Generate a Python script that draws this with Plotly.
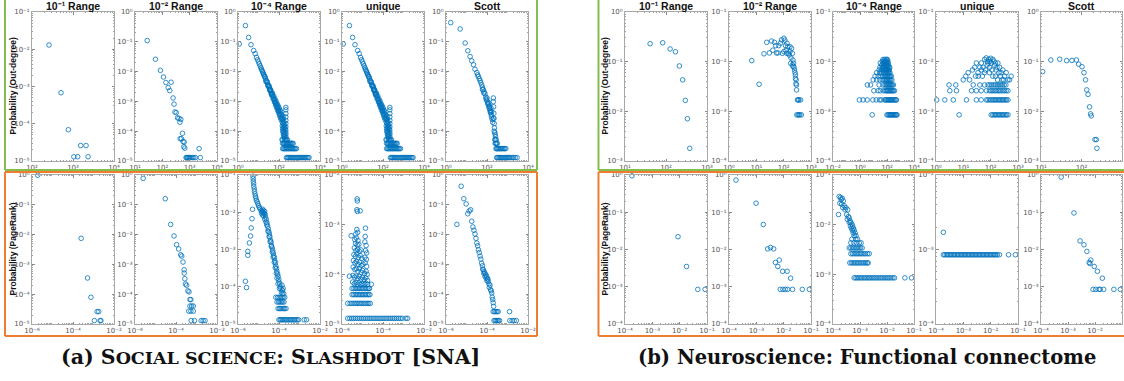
import plotly.graph_objects as go

# ---------------------------------------------------------------- data
col_titles = ["10\u207b\u00b9 Range", "10\u207b\u00b2 Range", "10\u207b\u2074 Range", "unique", "Scott"]
row_labels = ["Probability (Out-degree)", "Probability (PageRank)"]
caption_a = ("(a) S<span style=\"font-size:17.5px\">OCIAL SCIENCE</span>: "
             "S<span style=\"font-size:17.5px\">LASHDOT</span> [SNA]")
caption_b = "(b) Neuroscience: Functional connectome"

# ---- Slashdot, out-degree
slash_out_r1 = [(260, 1.3e-2), (510, 6.8e-4), (770, 6.9e-5), (1050, 1.3e-5), (1300, 1.3e-5),
                (1540, 2.6e-5), (2080, 2.6e-5), (2330, 1.3e-5)]
slash_out_r2 = [(28, 0.11), (56, 0.026), (85, 0.011), (110, 6.6e-3), (135, 4.3e-3), (164, 2.9e-3),
                (210, 4.4e-3), (187, 2.3e-3), (247, 1.3e-3), (268, 8.1e-4), (290, 4.4e-4), (323, 4.2e-4),
                (360, 2.8e-4), (405, 2.7e-4), (440, 2.0e-4), (475, 2.5e-4), (450, 5.6e-5), (500, 5.6e-5),
                (545, 8.5e-5), (575, 4.5e-5), (610, 3.0e-5), (630, 4.3e-5), (665, 2.7e-5), (740, 1.3e-5),
                (780, 1.3e-5), (830, 1.3e-5), (880, 1.3e-5), (950, 1.3e-5), (1000, 1.3e-5), (1100, 1.3e-5),
                (1270, 1.3e-5), (1420, 1.3e-5), (1620, 1.3e-5), (2220, 2.6e-5), (2450, 1.3e-5)]
slash_out_fine = [
    (1.15, 0.085), (2.3, 0.35), (3.3, 0.14), (4.3, 0.08), (5.8, 0.051), (6.9, 0.04),
    (8, 0.030), (9, 0.025), (10, 0.021), (11, 0.018), (12, 0.0155), (13, 0.0135), (14, 0.012),
    (15, 0.0107), (16, 0.0097), (17, 0.0088), (18, 0.008), (19, 0.0073), (20, 0.0067), (22, 0.0057),
    (24, 0.005), (26, 0.0044), (28, 0.0038), (30, 0.0035), (32, 0.0031), (34, 0.0028), (36, 0.0025),
    (38, 0.0023), (40, 0.0021), (43, 0.0019), (46, 0.0017), (50, 0.0015), (54, 0.0013), (58, 0.00115),
    (62, 0.00104), (66, 0.00093), (70, 0.00085), (75, 0.00076), (80, 0.00068), (85, 0.00062),
    (90, 0.00056), (95, 0.00051), (100, 0.00047), (110, 0.0004), (120, 0.00035), (130, 0.0003),
    (140, 0.00027), (150, 0.00024),
    (21, 0.0066), (23, 0.0047), (27, 0.0045), (29, 0.0033), (33, 0.0033), (35, 0.0024), (39, 0.0025),
    (42, 0.0018), (44, 0.0016), (48, 0.0019), (52, 0.0012), (56, 0.0015), (60, 0.00095), (64, 0.0012),
    (68, 0.00075), (72, 0.001), (78, 0.0006), (82, 0.00082), (88, 0.00048), (92, 0.0007), (98, 0.0004),
    (102, 0.0006), (108, 0.00033), (112, 0.0005), (118, 0.00028), (122, 0.00045), (128, 0.00024),
    (135, 0.00036), (145, 0.0002), (155, 0.00032), (160, 0.00018), (165, 0.00015), (170, 0.00013),
    (175, 0.00011), (180, 9.1e-5), (185, 7.8e-5), (190, 6.5e-5), (160, 0.00026), (170, 0.00021),
    (180, 0.00017), (190, 0.00014), (200, 0.00012), (145, 0.00015), (150, 0.00012), (155, 0.0001),
    (160, 9.1e-5), (165, 7.8e-5), (170, 6.5e-5),
    (215, 6.3e-4), (215, 5.2e-4), (215, 3.9e-4), (215, 3.0e-4), (215, 2.3e-4), (215, 1.8e-4),
    (215, 1.4e-4), (215, 1.1e-4), (215, 9.1e-5), (215, 7.8e-5), (215, 6.5e-5), (215, 5.2e-5),
    (140, 5.2e-5), (155, 5.2e-5), (185, 5.2e-5), (200, 5.2e-5), (235, 5.2e-5), (255, 5.2e-5),
    (150, 3.9e-5), (165, 3.9e-5), (180, 3.9e-5), (195, 3.9e-5), (215, 3.9e-5), (235, 3.9e-5),
    (255, 3.9e-5), (275, 3.9e-5), (300, 3.9e-5), (330, 3.9e-5), (360, 3.9e-5), (400, 3.9e-5),
    (440, 3.9e-5), (490, 3.9e-5),
    (150, 2.6e-5), (170, 2.6e-5), (190, 2.6e-5), (210, 2.6e-5), (230, 2.6e-5), (260, 2.6e-5),
    (290, 2.6e-5), (320, 2.6e-5), (360, 2.6e-5), (400, 2.6e-5), (450, 2.6e-5), (500, 2.6e-5),
    (560, 2.6e-5), (630, 2.6e-5), (710, 2.6e-5),
    (230, 1.3e-5), (260, 1.3e-5), (290, 1.3e-5), (330, 1.3e-5), (370, 1.3e-5), (420, 1.3e-5),
    (470, 1.3e-5), (530, 1.3e-5), (600, 1.3e-5), (680, 1.3e-5), (770, 1.3e-5), (870, 1.3e-5),
    (980, 1.3e-5), (1100, 1.3e-5), (1250, 1.3e-5), (1400, 1.3e-5), (1600, 1.3e-5), (1800, 1.3e-5),
    (2000, 1.3e-5), (2300, 1.3e-5), (2600, 1.3e-5), (2900, 1.3e-5)]
slash_out_unique = slash_out_fine
slash_out_scott = [
    (1.7, 0.44), (4.9, 0.27), (8.6, 0.091), (11.6, 0.05), (15, 0.032), (18, 0.023), (22, 0.017),
    (26, 0.012), (32, 0.0093), (35, 0.0078), (38, 0.0068), (42, 0.0058), (46, 0.005), (50, 0.0043),
    (55, 0.0036), (60, 0.003), (66, 0.0025), (72, 0.0021), (80, 0.0018), (88, 0.0014), (96, 0.0011),
    (105, 0.00095), (115, 0.00076), (125, 0.00065), (140, 0.00051), (150, 0.00042), (160, 0.00036),
    (60, 0.0025), (70, 0.0019), (90, 0.0012), (100, 0.0013), (110, 0.00085), (120, 0.0009),
    (130, 0.00058), (135, 0.0007), (145, 0.00045), (155, 0.0006), (165, 0.0003), (170, 0.00045),
    (180, 0.00025), (190, 0.0002),
    (204, 0.0013), (204, 0.00098), (210, 0.00066), (215, 0.0004), (204, 0.00027), (220, 0.00027),
    (225, 0.00018), (230, 0.00013), (225, 0.0001), (240, 9e-5), (250, 7.8e-5), (260, 6.5e-5),
    (240, 5.2e-5), (260, 5.2e-5), (280, 5.2e-5), (250, 3.9e-5), (270, 3.9e-5), (290, 3.9e-5),
    (320, 3.9e-5),
    (275, 2.6e-5), (300, 2.6e-5), (330, 2.6e-5), (360, 2.6e-5), (400, 2.6e-5), (450, 2.6e-5),
    (500, 2.6e-5), (570, 2.6e-5), (650, 2.6e-5), (730, 2.6e-5), (830, 2.6e-5),
    (295, 1.3e-5), (330, 1.3e-5), (370, 1.3e-5), (420, 1.3e-5), (470, 1.3e-5), (530, 1.3e-5),
    (600, 1.3e-5), (680, 1.3e-5), (770, 1.3e-5), (870, 1.3e-5), (980, 1.3e-5), (1100, 1.3e-5),
    (1250, 1.3e-5), (1450, 1.3e-5), (1700, 1.3e-5), (2000, 1.3e-5), (2400, 1.3e-5), (2950, 1.3e-5)]

# ---- Slashdot, PageRank
slash_pr_r1 = [(1.9e-6, 0.98), (2.5e-4, 7.5e-3), (5.1e-4, 3.5e-4), (7.5e-4, 7.9e-5), (1.5e-3, 2.6e-5),
               (1.8e-3, 2.6e-5), (1.1e-3, 1.3e-5), (2.1e-3, 1.3e-5), (2.3e-3, 1.3e-5)]
slash_pr_r2 = [(2.5e-6, 0.77), (3e-5, 0.16), (5.5e-5, 0.022), (8e-5, 9e-3), (1.07e-4, 4.6e-3),
               (1.35e-4, 3.3e-3), (1.7e-4, 2.1e-3), (1.9e-4, 1.9e-3), (2.2e-4, 1.2e-3), (2.5e-4, 6.6e-4),
               (2.5e-4, 5.1e-4), (2.7e-4, 3.3e-4), (2.9e-4, 2.2e-4), (3.3e-4, 2.0e-4), (3.8e-4, 1.3e-4),
               (4.3e-4, 1.2e-4), (4.8e-4, 6.6e-5), (5.3e-4, 6.6e-5), (4.8e-4, 4e-5), (5.8e-4, 4e-5),
               (7e-4, 4e-5), (4.2e-4, 2.7e-5), (5.3e-4, 2.7e-5), (7e-4, 2.7e-5), (5.5e-4, 1.3e-5),
               (8e-4, 1.3e-5), (1.7e-3, 1.3e-5), (2.1e-3, 1.3e-5), (2.6e-3, 1.3e-5)]
slash_pr_fine = [
    (2.3e-6, 1.4e-4), (2.6e-6, 9.5e-5), (3.0e-6, 7.0e-4), (3.0e-6, 8.9e-4), (3.6e-6, 1.5e-3),
    (4.1e-6, 2.3e-3), (4.4e-6, 3.8e-3), (4.8e-6, 6.7e-3), (5.1e-6, 1.2e-2),
    (5.4e-6, 0.093), (5.5e-6, 0.08), (5.6e-6, 0.068), (5.8e-6, 0.058), (5.9e-6, 0.049), (6.2e-6, 0.042),
    (6.4e-6, 0.036), (6.8e-6, 0.031), (7.1e-6, 0.027), (7.5e-6, 0.024), (7.9e-6, 0.021), (8.6e-6, 0.019),
    (9.3e-6, 0.017), (1.0e-5, 0.015), (1.1e-5, 0.0135), (1.2e-5, 0.0123), (1.35e-5, 0.011),
    (1.5e-5, 0.0105), (1.6e-5, 0.012), (1.7e-5, 0.0098), (1.8e-5, 0.011), (1.9e-5, 0.0092),
    (2.0e-5, 0.0105), (2.1e-5, 0.0088), (1.4e-5, 0.0095), (1.55e-5, 0.0085), (1.75e-5, 0.008),
    (2.2e-5, 0.0075), (2.0e-5, 0.0065), (2.4e-5, 0.0065), (2.3e-5, 0.0055), (2.6e-5, 0.0052),
    (2.5e-5, 0.0046), (2.8e-5, 0.0042), (3.0e-5, 0.0036), (2.9e-5, 0.0031), (3.2e-5, 0.003),
    (3.4e-5, 0.0026), (3.3e-5, 0.0022), (3.6e-5, 0.0022), (3.8e-5, 0.0018), (3.7e-5, 0.0016),
    (4.1e-5, 0.0016), (4.3e-5, 0.0013), (4.2e-5, 0.0012), (4.7e-5, 0.0011), (4.9e-5, 9.5e-4),
    (4.7e-5, 8.5e-4), (5.3e-5, 8e-4), (5.5e-5, 6.8e-4), (5.2e-5, 6.2e-4), (6.0e-5, 6e-4),
    (6.2e-5, 5e-4), (5.9e-5, 4.5e-4), (6.8e-5, 4.4e-4), (7.0e-5, 3.6e-4), (6.6e-5, 3.2e-4),
    (7.6e-5, 3.1e-4), (7.9e-5, 2.6e-4), (7.4e-5, 2.3e-4), (8.6e-5, 2.2e-4), (9.0e-5, 1.9e-4),
    (8.0e-5, 1.7e-4), (9.8e-5, 1.6e-4), (1.0e-4, 1.35e-4), (9.0e-5, 1.2e-4), (1.1e-4, 1.2e-4),
    (1.15e-4, 1.0e-4), (1.05e-4, 8.9e-5), (1.25e-4, 8.9e-5), (1.4e-4, 1.1e-4), (1.5e-4, 8e-5),
    (1.6e-4, 9e-5), (1.3e-4, 7.2e-5), (1.45e-4, 6.5e-5), (1.7e-4, 6.5e-5),
    (7.0e-5, 5.2e-5), (8.5e-5, 5.2e-5), (1.0e-4, 5.2e-5), (1.2e-4, 5.2e-5), (1.4e-4, 5.2e-5),
    (1.6e-4, 5.2e-5), (1.9e-4, 5.2e-5),
    (8.0e-5, 3.9e-5), (9.5e-5, 3.9e-5), (1.1e-4, 3.9e-5), (1.3e-4, 3.9e-5), (1.5e-4, 3.9e-5),
    (1.75e-4, 3.9e-5),
    (9.0e-5, 2.6e-5), (1.05e-4, 2.6e-5), (1.2e-4, 2.6e-5), (1.4e-4, 2.6e-5), (1.65e-4, 2.6e-5),
    (1.9e-4, 2.6e-5), (2.2e-4, 2.6e-5),
    (1.0e-4, 1.3e-5), (1.15e-4, 1.3e-5), (1.3e-4, 1.3e-5), (1.5e-4, 1.3e-5), (1.75e-4, 1.3e-5),
    (2.0e-4, 1.3e-5), (2.3e-4, 1.3e-5), (2.7e-4, 1.3e-5), (3.1e-4, 1.3e-5), (3.6e-4, 1.3e-5),
    (4.2e-4, 1.3e-5), (4.9e-4, 1.3e-5), (5.7e-4, 1.3e-5), (6.6e-4, 1.3e-5), (7.7e-4, 1.3e-5),
    (9.0e-4, 1.3e-5), (1.7e-3, 1.3e-5), (2.2e-3, 1.3e-5)]
slash_pr_unique = [
    (5.5e-6, 3.3e-3), (5.6e-6, 3.0e-3), (5.3e-6, 2.0e-3), (5.6e-6, 1.85e-3), (7.7e-6, 1.9e-3),
    (2.8e-6, 6.0e-4), (1.4e-5, 8.5e-4), (5.3e-6, 8.0e-4), (5.8e-6, 7.0e-4), (4.7e-6, 6.5e-4),
    (1.35e-5, 5.8e-4), (2.3e-6, 9.2e-5), (2.7e-5, 6.3e-5),
    (4.2e-6, 5.0e-4), (5.0e-6, 5.4e-4), (6.0e-6, 4.8e-4), (4.6e-6, 4.2e-4), (5.5e-6, 3.9e-4),
    (6.6e-6, 4.0e-4), (1.3e-5, 4.5e-4), (1.5e-5, 3.8e-4),
    (4.0e-6, 3.4e-4), (4.8e-6, 3.0e-4), (5.8e-6, 3.2e-4), (7.0e-6, 2.9e-4), (8.4e-6, 3.1e-4),
    (1.4e-5, 3.0e-4), (1.6e-5, 2.7e-4),
    (3.8e-6, 2.5e-4), (4.5e-6, 2.3e-4), (5.3e-6, 2.6e-4), (6.3e-6, 2.2e-4), (7.6e-6, 2.4e-4),
    (9.0e-6, 2.1e-4), (1.3e-5, 2.2e-4), (1.55e-5, 2.0e-4),
    (3.6e-6, 1.9e-4), (4.3e-6, 1.7e-4), (5.1e-6, 1.8e-4), (6.1e-6, 1.6e-4), (7.3e-6, 1.75e-4),
    (8.7e-6, 1.5e-4), (1.05e-5, 1.6e-4), (1.35e-5, 1.7e-4), (1.6e-5, 1.45e-4),
    (3.5e-6, 1.4e-4), (4.2e-6, 1.25e-4), (5.0e-6, 1.3e-4), (6.0e-6, 1.15e-4), (7.2e-6, 1.3e-4),
    (8.6e-6, 1.1e-4), (1.0e-5, 1.2e-4), (1.25e-5, 1.05e-4), (1.5e-5, 1.15e-4), (1.7e-5, 1.0e-4),
    (3.4e-6, 9.5e-5), (4.1e-6, 8.8e-5), (4.9e-6, 9.2e-5), (5.9e-6, 8.3e-5), (7.0e-6, 9.0e-5),
    (8.4e-6, 8.0e-5), (1.0e-5, 8.6e-5), (1.2e-5, 7.8e-5), (1.45e-5, 8.5e-5), (1.75e-5, 7.5e-5),
    (3.3e-6, 7.0e-5), (4.0e-6, 6.5e-5), (4.8e-6, 6.8e-5), (5.7e-6, 6.3e-5), (6.9e-6, 6.7e-5),
    (8.2e-6, 6.2e-5), (9.8e-6, 6.5e-5), (1.2e-5, 6.2e-5), (1.45e-5, 6.6e-5), (1.8e-5, 6.3e-5),
    (3.1e-6, 5.2e-5), (3.8e-6, 5.2e-5), (4.5e-6, 5.2e-5), (5.3e-6, 5.2e-5), (6.2e-6, 5.2e-5),
    (7.3e-6, 5.2e-5), (8.6e-6, 5.2e-5), (1.0e-5, 5.2e-5), (1.2e-5, 5.2e-5), (1.45e-5, 5.2e-5),
    (1.7e-5, 5.2e-5), (2.0e-5, 5.2e-5), (2.2e-5, 5.2e-5),
    (3.1e-6, 3.9e-5), (3.7e-6, 3.9e-5), (4.4e-6, 3.9e-5), (5.2e-6, 3.9e-5), (6.1e-6, 3.9e-5),
    (7.2e-6, 3.9e-5), (8.5e-6, 3.9e-5), (1.0e-5, 3.9e-5), (1.2e-5, 3.9e-5), (1.4e-5, 3.9e-5),
    (1.7e-5, 3.9e-5), (2.0e-5, 3.9e-5), (2.3e-5, 3.9e-5),
    (1.9e-6, 2.6e-5), (2.5e-6, 2.6e-5), (3.1e-6, 2.6e-5), (3.8e-6, 2.6e-5), (4.6e-6, 2.6e-5),
    (5.5e-6, 2.6e-5), (6.6e-6, 2.6e-5), (7.9e-6, 2.6e-5), (9.5e-6, 2.6e-5), (1.15e-5, 2.6e-5),
    (1.4e-5, 2.6e-5), (1.7e-5, 2.6e-5), (2.0e-5, 2.6e-5), (2.4e-5, 2.6e-5),
    (1.9e-6, 1.3e-5), (2.4e-6, 1.3e-5), (3.0e-6, 1.3e-5), (3.7e-6, 1.3e-5), (4.6e-6, 1.3e-5),
    (5.7e-6, 1.3e-5), (7.0e-6, 1.3e-5), (8.7e-6, 1.3e-5), (1.08e-5, 1.3e-5), (1.35e-5, 1.3e-5),
    (1.7e-5, 1.3e-5), (2.1e-5, 1.3e-5), (2.6e-5, 1.3e-5), (3.3e-5, 1.3e-5), (4.1e-5, 1.3e-5),
    (5.1e-5, 1.3e-5), (6.4e-5, 1.3e-5), (8.0e-5, 1.3e-5), (1.0e-4, 1.3e-5), (1.25e-4, 1.3e-5),
    (1.55e-4, 1.3e-5), (1.95e-4, 1.3e-5), (2.4e-4, 1.3e-5), (3.0e-4, 1.3e-5), (3.7e-4, 1.3e-5),
    (4.6e-4, 1.3e-5), (5.7e-4, 1.3e-5), (7.0e-4, 1.3e-5), (8.7e-4, 1.3e-5), (1.3e-3, 1.3e-5),
    (1.6e-3, 1.3e-5)]
slash_pr_scott = [
    (3.4e-6, 0.022), (5.5e-6, 0.42), (7.4e-6, 0.16), (9.6e-6, 0.107), (1.15e-5, 0.05), (1.35e-5, 0.062),
    (1.6e-5, 0.068), (1.8e-5, 0.028), (2.05e-5, 0.018), (2.3e-5, 0.014), (2.6e-5, 0.0105),
    (2.9e-5, 0.0075), (3.2e-5, 0.0052), (3.5e-5, 0.0042), (3.8e-5, 0.0031), (4.2e-5, 0.0025),
    (4.6e-5, 0.0019), (5e-5, 0.0015), (5.5e-5, 0.0011), (6e-5, 0.0009), (6.6e-5, 0.00066),
    (7.2e-5, 0.00058), (7.9e-5, 0.00051), (8.7e-5, 0.00045), (9.6e-5, 0.0004), (1.05e-4, 0.00033),
    (1.15e-4, 0.00027), (1.25e-4, 0.00022), (1.4e-4, 0.0002), (1.5e-4, 0.00014), (1.7e-4, 0.00011),
    (1.8e-4, 8e-5), (1.9e-4, 6.6e-5), (2e-4, 5.2e-5), (2.1e-4, 3.9e-5),
    (6.2e-5, 0.0007), (7e-5, 0.0005), (8e-5, 0.0004), (9e-5, 0.00035), (1e-4, 0.00028),
    (1.1e-4, 0.00032), (1.3e-4, 0.00017), (1.6e-4, 0.00013),
    (2.0e-4, 2.6e-5), (2.3e-4, 2.6e-5), (2.7e-4, 2.6e-5), (3.1e-4, 2.6e-5), (3.5e-4, 2.6e-5),
    (1.26e-3, 2.6e-5),
    (2.2e-4, 1.3e-5), (2.5e-4, 1.3e-5), (2.8e-4, 1.3e-5), (3.2e-4, 1.3e-5), (3.6e-4, 1.3e-5),
    (4.1e-4, 1.3e-5), (1.3e-3, 1.3e-5), (1.7e-3, 1.3e-5), (2.1e-3, 1.3e-5), (2.7e-3, 1.3e-5)]

# ---- Functional connectome, out-degree
conn_out_r1 = [(41, 0.23), (83, 0.24), (126, 0.18), (170, 0.158), (212, 0.082), (255, 0.043),
               (296, 0.0166), (333, 0.0071), (380, 0.0018)]
conn_out_r2 = [
    (6.8, 0.0105), (12.6, 0.0035), (19, 0.0144), (24, 0.0245), (36, 0.026), (46, 0.0245), (30, 0.015),
    (40, 0.017), (51, 0.021), (55, 0.015), (62, 0.015), (66, 0.021), (76, 0.0235), (84, 0.0275),
    (102, 0.0296), (110, 0.027), (117, 0.021), (132, 0.0235), (142, 0.02), (123, 0.017), (150, 0.0147),
    (170, 0.016), (170, 0.02), (195, 0.0186), (209, 0.0147), (219, 0.0108), (230, 0.0093), (219, 0.008),
    (250, 0.0068), (270, 0.0054), (270, 0.0046), (282, 0.0036), (295, 0.0034), (295, 0.0027),
    (320, 0.0017), (363, 0.0017), (415, 0.0017), (303, 0.00085), (363, 0.00085), (443, 0.00085),
    (132, 0.0147), (102, 0.016), (90, 0.0147), (180, 0.0093), (209, 0.0086), (160, 0.0136),
    (185, 0.0119), (240, 0.0077), (260, 0.006), (285, 0.0043), (340, 0.0017), (390, 0.00085),
    (335, 0.00085)]
conn_out_fine = [
    (8, 0.00085), (100, 0.00085), (120, 0.00085), (140, 0.00085), (160, 0.00085), (185, 0.00085),
    (210, 0.00085), (240, 0.00085), (280, 0.00085), (320, 0.00085), (370, 0.00085), (430, 0.00085),
    (500, 0.00085), (550, 0.00085),
    (0.9, 0.0017), (1.7, 0.0017), (3.4, 0.0017), (9, 0.0017), (16, 0.0017), (28, 0.0017), (38, 0.0017),
    (67, 0.0017), (80, 0.0017), (95, 0.0017), (110, 0.0017), (130, 0.0017), (150, 0.0017),
    (175, 0.0017), (200, 0.0017), (230, 0.0017), (270, 0.0017), (320, 0.0017), (380, 0.0017),
    (450, 0.0017), (500, 0.0017),
    (10.6, 0.0026), (22, 0.0026), (32, 0.0026), (55, 0.0026), (75, 0.0026), (90, 0.0026),
    (105, 0.0026), (120, 0.0026), (140, 0.0026), (165, 0.0026), (190, 0.0026), (220, 0.0026),
    (260, 0.0026), (300, 0.0026), (360, 0.0026),
    (3.5, 0.0034), (6, 0.0034), (26, 0.0034), (50, 0.0034), (70, 0.0034), (85, 0.0034), (100, 0.0034),
    (115, 0.0034), (135, 0.0034), (155, 0.0034), (180, 0.0034), (210, 0.0034), (250, 0.0034),
    (300, 0.0034),
    (9.5, 0.0043), (17, 0.0043), (30, 0.0043), (45, 0.0043), (60, 0.0043), (75, 0.0043), (90, 0.0043),
    (105, 0.0043), (120, 0.0043), (140, 0.0043), (160, 0.0043), (190, 0.0043), (230, 0.0043),
    (13, 0.0051), (22, 0.0051), (35, 0.0051), (50, 0.0051), (65, 0.0051), (80, 0.0051), (95, 0.0051),
    (110, 0.0051), (130, 0.0051), (150, 0.0051), (175, 0.0051), (210, 0.0051),
    (17, 0.006), (29, 0.006), (40, 0.006), (55, 0.006), (70, 0.006), (85, 0.006), (100, 0.006),
    (120, 0.006), (140, 0.006), (165, 0.006),
    (26, 0.0068), (38, 0.0068), (52, 0.0068), (68, 0.0068), (85, 0.0068), (105, 0.0068), (125, 0.0068),
    (150, 0.0068),
    (30, 0.0077), (46, 0.0077), (58, 0.0077), (75, 0.0077), (95, 0.0077), (115, 0.0077), (140, 0.0077),
    (160, 0.0077),
    (40, 0.0085), (55, 0.0085), (68, 0.0085), (89, 0.0085), (105, 0.0085), (130, 0.0085),
    (32, 0.0094), (50, 0.0094), (65, 0.0094), (80, 0.0094), (100, 0.0094), (120, 0.0094),
    (45, 0.0102), (58, 0.0102), (75, 0.0102), (95, 0.0102), (117, 0.0102),
    (51, 0.0111), (68, 0.0111), (89, 0.0111), (105, 0.0111)]
conn_out_unique = [
    (7, 0.00085), (105, 0.00085), (120, 0.00085), (135, 0.00085), (150, 0.00085), (170, 0.00085),
    (190, 0.00085), (215, 0.00085), (240, 0.00085), (270, 0.00085), (300, 0.00085), (340, 0.00085),
    (380, 0.00085), (430, 0.00085),
    (1.06, 0.0017), (2.1, 0.0017), (4.3, 0.0017), (13, 0.0017), (30, 0.0017), (45, 0.0017), (70, 0.0017),
    (80, 0.0017), (92, 0.0017), (105, 0.0017), (120, 0.0017), (135, 0.0017), (150, 0.0017),
    (170, 0.0017), (190, 0.0017), (215, 0.0017), (240, 0.0017), (270, 0.0017), (300, 0.0017),
    (340, 0.0017), (380, 0.0017), (430, 0.0017),
    (3.2, 0.0026), (5.6, 0.0026), (20, 0.0026), (30, 0.0026), (45, 0.0026), (70, 0.0026), (90, 0.0026),
    (105, 0.0026), (120, 0.0026), (140, 0.0026), (160, 0.0026), (185, 0.0026), (210, 0.0026),
    (240, 0.0026), (280, 0.0026), (320, 0.0026), (370, 0.0026), (430, 0.0026),
    (3, 0.0034), (5.3, 0.0034), (23, 0.0034), (40, 0.0034), (60, 0.0034), (80, 0.0034), (95, 0.0034),
    (110, 0.0034), (130, 0.0034), (150, 0.0034), (175, 0.0034), (200, 0.0034), (230, 0.0034),
    (270, 0.0034), (310, 0.0034), (360, 0.0034),
    (9.9, 0.0043), (12.3, 0.0051), (15, 0.006), (17, 0.0043), (21.6, 0.0068), (26, 0.0077), (30, 0.0094),
    (34.5, 0.006), (40, 0.0077), (45.7, 0.0094), (52.6, 0.0077), (60, 0.0111), (69, 0.0119),
    (80, 0.0094), (92, 0.0077), (105, 0.0094), (121, 0.0111), (139, 0.0085), (160, 0.0068),
    (184, 0.0094), (211, 0.0077), (243, 0.006), (280, 0.0068), (323, 0.0051), (370, 0.006),
    (425, 0.0043), (490, 0.0043), (560, 0.0051),
    (35, 0.0051), (50, 0.0051), (65, 0.0068), (75, 0.0085), (85, 0.0111), (95, 0.0102), (110, 0.0068),
    (130, 0.0102), (150, 0.0094), (170, 0.0077), (200, 0.006), (230, 0.0051), (60, 0.006), (90, 0.006),
    (120, 0.0051), (150, 0.0051), (180, 0.0043), (260, 0.0043), (300, 0.0043), (28, 0.0051),
    (45, 0.0068), (100, 0.0117), (75, 0.0102)]
conn_out_scott = [(11, 0.063), (17.5, 0.108), (29, 0.112), (43, 0.105), (58, 0.106), (75, 0.108),
                  (85, 0.089), (103, 0.079), (115, 0.06), (126, 0.043), (135, 0.027), (145, 0.022),
                  (158, 0.0123), (167, 0.0089), (174, 0.0081), (215, 0.0027), (232, 0.0027), (240, 0.0018)]

# ---- Functional connectome, PageRank
conn_pr_r1 = [(1.8e-4, 0.95), (8.7e-3, 0.022), (0.0178, 3.5e-3), (0.046, 8.5e-4), (0.085, 8.5e-4)]
conn_pr_r2 = [(1.8e-4, 0.73), (9.8e-4, 0.175), (1.8e-3, 0.047), (2.6e-3, 0.0104), (3.3e-3, 0.0113),
              (4.3e-3, 0.0104), (5e-3, 4.5e-3), (6.1e-3, 3.5e-3), (6.9e-3, 5.2e-3), (9.2e-3, 2.6e-3),
              (0.0134, 2.6e-3), (0.018, 1.7e-3), (7.5e-3, 8.5e-4), (9.4e-3, 8.5e-4), (0.0115, 8.5e-4),
              (0.014, 8.5e-4), (0.021, 8.5e-4), (0.048, 8.5e-4), (0.087, 8.5e-4)]
conn_pr_fine = [
    (1.7e-4, 0.037), (1.9e-4, 0.035), (2.0e-4, 0.032), (1.8e-4, 0.027), (2.2e-4, 0.034), (2.4e-4, 0.030),
    (2.1e-4, 0.026), (2.6e-4, 0.024), (2.3e-4, 0.022), (1.6e-4, 0.016), (3.0e-4, 0.022), (2.8e-4, 0.02),
    (3.5e-4, 0.02), (3.2e-4, 0.016), (3.7e-4, 0.0145), (4.0e-4, 0.0137), (3.4e-4, 0.0128),
    (4.3e-4, 0.0119), (4.0e-4, 0.0111), (4.6e-4, 0.0111), (5.0e-4, 0.0102), (4.4e-4, 0.0094),
    (5.3e-4, 0.0094), (5.7e-4, 0.0085), (4.8e-4, 0.0085), (6.1e-4, 0.0077), (5.2e-4, 0.0077),
    (6.6e-4, 0.0068), (5.6e-4, 0.0068), (7.1e-4, 0.006), (6.1e-4, 0.006), (8.1e-4, 0.0051),
    (7e-4, 0.0051), (5e-4, 0.0051), (6e-4, 0.0043), (4.6e-4, 0.0043), (7.5e-4, 0.0043),
    (9.4e-4, 0.0043), (1.1e-3, 0.0043),
    (4e-4, 0.0034), (4.6e-4, 0.0034), (5.3e-4, 0.0034), (6.1e-4, 0.0034), (7e-4, 0.0034),
    (8e-4, 0.0034), (9.2e-4, 0.0034), (1.05e-3, 0.0034), (1.2e-3, 0.0034),
    (4.6e-4, 0.0026), (5.3e-4, 0.0026), (6.1e-4, 0.0026), (7e-4, 0.0026), (8e-4, 0.0026),
    (9.2e-4, 0.0026), (1.05e-3, 0.0026), (1.2e-3, 0.0026), (1.4e-3, 0.0026), (1.6e-3, 0.0026),
    (1.9e-3, 0.0026), (2.2e-3, 0.0026),
    (4.2e-4, 0.0017), (4.8e-4, 0.0017), (5.5e-4, 0.0017), (6.3e-4, 0.0017), (7.2e-4, 0.0017),
    (8.2e-4, 0.0017), (9.4e-4, 0.0017), (1.08e-3, 0.0017), (1.24e-3, 0.0017), (1.42e-3, 0.0017),
    (1.62e-3, 0.0017), (1.86e-3, 0.0017), (2.0e-3, 0.0017),
    (6.1e-4, 0.00085), (7e-4, 0.00085), (8e-4, 0.00085), (9.2e-4, 0.00085), (1.05e-3, 0.00085),
    (1.2e-3, 0.00085), (1.4e-3, 0.00085), (1.6e-3, 0.00085), (1.85e-3, 0.00085), (2.1e-3, 0.00085),
    (2.4e-3, 0.00085), (2.8e-3, 0.00085), (3.2e-3, 0.00085), (3.7e-3, 0.00085), (4.3e-3, 0.00085),
    (5e-3, 0.00085), (5.8e-3, 0.00085), (6.7e-3, 0.00085), (7.8e-3, 0.00085), (9e-3, 0.00085),
    (0.0105, 0.00085), (0.012, 0.00085), (0.014, 0.00085), (0.0165, 0.00085), (0.019, 0.00085),
    (0.046, 0.00085), (0.081, 0.00085)]
conn_pr_unique = [
    (1.86e-4, 1.7e-3), (1.86e-4, 8.5e-4), (2.1e-4, 8.5e-4), (2.4e-4, 8.5e-4), (2.7e-4, 8.5e-4),
    (3.0e-4, 8.5e-4), (3.4e-4, 8.5e-4), (3.8e-4, 8.5e-4), (4.3e-4, 8.5e-4), (4.8e-4, 8.5e-4),
    (5.4e-4, 8.5e-4), (6.1e-4, 8.5e-4), (6.8e-4, 8.5e-4), (7.7e-4, 8.5e-4), (8.6e-4, 8.5e-4),
    (9.7e-4, 8.5e-4), (1.09e-3, 8.5e-4), (1.22e-3, 8.5e-4), (1.37e-3, 8.5e-4), (1.54e-3, 8.5e-4),
    (1.73e-3, 8.5e-4), (1.95e-3, 8.5e-4), (2.2e-3, 8.5e-4), (2.45e-3, 8.5e-4), (2.75e-3, 8.5e-4),
    (3.1e-3, 8.5e-4), (3.5e-3, 8.5e-4), (3.9e-3, 8.5e-4), (4.4e-3, 8.5e-4), (4.9e-3, 8.5e-4),
    (5.5e-3, 8.5e-4), (6.2e-3, 8.5e-4), (7e-3, 8.5e-4), (7.8e-3, 8.5e-4), (8.8e-3, 8.5e-4),
    (9.9e-3, 8.5e-4), (0.0111, 8.5e-4), (0.0125, 8.5e-4), (0.014, 8.5e-4), (0.0157, 8.5e-4),
    (0.0176, 8.5e-4), (0.021, 8.5e-4), (0.045, 8.5e-4), (0.08, 8.5e-4)]
conn_pr_scott = [(5.6e-4, 0.88), (1.66e-3, 0.096), (2.8e-3, 0.017), (3.9e-3, 0.0134), (5e-3, 8.9e-3),
                 (6.1e-3, 4.5e-3), (7e-3, 5.2e-3), (6.5e-3, 4.2e-3), (9.4e-3, 3.5e-3), (0.0123, 2.6e-3),
                 (0.0187, 1.7e-3), (8.5e-3, 8.5e-4), (0.0107, 8.5e-4), (0.014, 8.5e-4), (0.0154, 8.5e-4),
                 (0.021, 8.5e-4), (0.05, 8.5e-4), (0.087, 8.5e-4)]

# panel specs: (points, x decade range, x label step, y decade range)
left_panels = [
    (slash_out_r1, (2, 4), 1, (-5, -1)),
    (slash_out_r2, (1, 4), 1, (-5, 0)),
    (slash_out_fine, (0, 4), 2, (-5, 0)),
    (slash_out_unique, (0, 4), 2, (-5, 0)),
    (slash_out_scott, (0, 4), 2, (-5, 0)),
    (slash_pr_r1, (-6, -2), 2, (-5, 0)),
    (slash_pr_r2, (-6, -2), 2, (-5, 0)),
    (slash_pr_fine, (-6, -2), 2, (-5, -1)),
    (slash_pr_unique, (-6, -2), 2, (-5, -2)),
    (slash_pr_scott, (-6, -2), 2, (-5, 0)),
]
right_panels = [
    (conn_out_r1, (1, 3), 1, (-3, 0)),
    (conn_out_r2, (0, 3), 1, (-4, -1)),
    (conn_out_fine, (-2, 4), 2, (-4, -1)),
    (conn_out_unique, (0, 3), 1, (-4, -1)),
    (conn_out_scott, (1, 3), 1, (-3, 0)),
    (conn_pr_r1, (-4, -1), 1, (-4, 0)),
    (conn_pr_r2, (-4, -1), 1, (-4, 0)),
    (conn_pr_fine, (-4, -1), 1, (-4, -1)),
    (conn_pr_unique, (-4, -1), 1, (-4, -2)),
    (conn_pr_scott, (-4, -1), 1, (-4, 0)),
]

# ---------------------------------------------------------------- layout (pixels)
W, H = 1124, 381
left_cols = [(32, 114), (135, 217), (238, 320), (342, 424), (446, 528)]
right_cols = [(625, 707), (729, 811), (833, 914), (936, 1018), (1041, 1122)]
rows = [(12, 161), (175, 324)]
BLUE = "#0072BD"
GREEN = "#82BD4E"
ORANGE = "#EE7D32"
SUP = str.maketrans("-0123456789", "\u207b\u2070\u00b9\u00b2\u00b3\u2074\u2075\u2076\u2077\u2078\u2079")


def px(x):
    return x / W


def py(y):
    return 1 - y / H


def log_ticks(lo, hi, step):
    vals = [10.0 ** k for k in range(lo, hi + 1, step)]
    text = ["10" + str(k).translate(SUP) for k in range(lo, hi + 1, step)]
    return vals, text


def minor_vals(lo, hi):
    out = []
    for k in range(lo, hi):
        for m in range(2, 10):
            out.append(m * 10.0 ** k)
    return out


def axis(dom, rng, step, anchor):
    vals, text = log_ticks(rng[0], rng[1], step)
    return dict(type="log", domain=dom, range=list(rng), anchor=anchor,
                tickmode="array", tickvals=vals, ticktext=text,
                tickfont=dict(size=7, color="#555555", family="DejaVu Sans"),
                ticks="inside", ticklen=2.5, tickwidth=0.6, tickcolor="#8a8a8a",
                minor=dict(tickmode="array", tickvals=minor_vals(rng[0], rng[1]),
                           ticks="inside", ticklen=1.3, tickwidth=0.5, tickcolor="#a0a0a0"),
                showline=True, linecolor="#a8a8a8", linewidth=1, mirror="ticks",
                showgrid=False, zeroline=False, automargin=False, fixedrange=True)


fig = go.Figure()
layout_axes = {}
idx = 0
for panels, cols in ((left_panels, left_cols), (right_panels, right_cols)):
    for p, (pts, xr, xstep, yr) in enumerate(panels):
        idx += 1
        r, c = divmod(p, 5)
        x0, x1 = cols[c]
        y0, y1 = rows[r]
        xs = [a for a, b in pts]
        ys = [b for a, b in pts]
        sfx = "" if idx == 1 else str(idx)
        fig.add_trace(go.Scatter(
            x=xs, y=ys, mode="markers", xaxis="x" + sfx, yaxis="y" + sfx,
            marker=dict(symbol="circle-open", size=4.6, color=BLUE, line=dict(width=0.8, color=BLUE)),
            cliponaxis=False, showlegend=False, hoverinfo="skip"))
        layout_axes["xaxis" + sfx] = axis([px(x0), px(x1)], xr, xstep, "y" + sfx)
        layout_axes["yaxis" + sfx] = axis([py(y1), py(y0)], yr, 1, "x" + sfx)

annotations = []
for cols, lab_x in ((left_cols, 12), (right_cols, 604)):
    for c, t in enumerate(col_titles):
        annotations.append(dict(x=px((cols[c][0] + cols[c][1]) / 2), y=py(6), xref="paper", yref="paper",
                                text=t, showarrow=False, xanchor="center", yanchor="middle",
                                font=dict(size=10.5, color="#111111", family="Liberation Sans",
                                          weight="bold")))
    for r, t in enumerate(row_labels):
        annotations.append(dict(x=px(lab_x), y=py((rows[r][0] + rows[r][1]) / 2), xref="paper",
                                yref="paper", text=t, showarrow=False, textangle=-90,
                                xanchor="center", yanchor="middle",
                                font=dict(size=8.5, color="#111111", family="Liberation Sans",
                                          weight="bold")))
annotations.append(dict(x=px(270), y=py(357), xref="paper", yref="paper", text=caption_a,
                        showarrow=False, xanchor="center", yanchor="middle",
                        font=dict(size=20.5, color="#111111", family="DejaVu Serif", weight="bold")))
annotations.append(dict(x=px(867), y=py(357), xref="paper", yref="paper", text=caption_b,
                        showarrow=False, xanchor="center", yanchor="middle",
                        font=dict(size=19.5, color="#111111", family="DejaVu Serif", weight="bold")))


def seg(x0, y0, x1, y1, color):
    return dict(type="line", xref="paper", yref="paper", x0=px(x0), y0=py(y0), x1=px(x1), y1=py(y1),
                line=dict(color=color, width=2), layer="above")


shapes = [
    seg(5, -5, 5, 170, GREEN), seg(537, -5, 537, 170, GREEN), seg(5, 170, 537, 170, GREEN),
    seg(5, 172, 5, 336, ORANGE), seg(537, 172, 537, 336, ORANGE),
    seg(5, 172, 537, 172, ORANGE), seg(5, 336, 537, 336, ORANGE),
    seg(598.5, -5, 598.5, 170, GREEN), seg(598.5, 170, 1130, 170, GREEN),
    seg(598.5, 172, 598.5, 336, ORANGE), seg(598.5, 172, 1130, 172, ORANGE),
    seg(598.5, 336, 1130, 336, ORANGE),
]

fig.update_layout(width=W, height=H, margin=dict(l=0, r=0, t=0, b=0),
                  paper_bgcolor="white", plot_bgcolor="white",
                  annotations=annotations, shapes=shapes, **layout_axes)
fig.write_html("out.html")
